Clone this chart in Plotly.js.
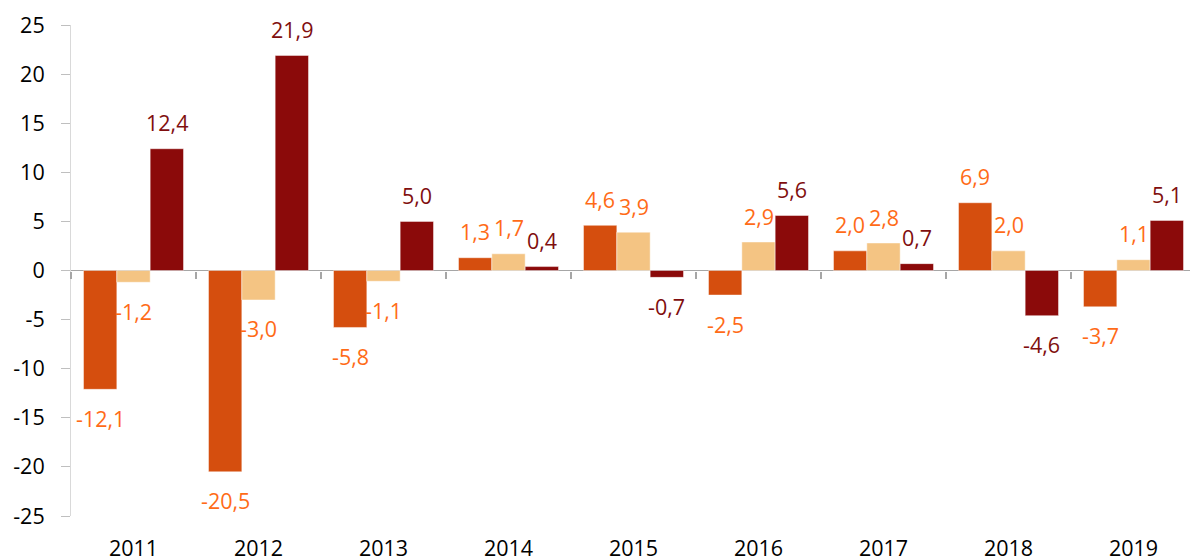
<!DOCTYPE html>
<html>
<head>
<meta charset="utf-8">
<script src="https://cdn.plot.ly/plotly-3.0.1.min.js"></script>
<style>html,body{margin:0;padding:0;background:#fff;}#chart{width:1190px;height:560px;}</style>
</head>
<body>
<div id="chart"></div>
<script>
const years = ['2011','2012','2013','2014','2015','2016','2017','2018','2019'];
const seriesA = [-12.1, -20.5, -5.8, 1.3, 4.6, -2.5, 2.0, 6.9, -3.7];
const seriesB = [-1.2, -3.0, -1.1, 1.7, 3.9, 2.9, 2.8, 2.0, 1.1];
const seriesC = [12.4, 21.9, 5.0, 0.4, -0.7, 5.6, 0.7, -4.6, 5.1];
const yTickVals = [-25, -20, -15, -10, -5, 0, 5, 10, 15, 20, 25];
const yTickText = ['-25', '-20', '-15', '-10', '-5', '0', '5', '10', '15', '20', '25'];

const barColors = ['#D54E0E', '#F4C483', '#8B0A0A'];
const labelColors = ['#FF6B17', '#FF6B17', '#800E0E'];
const allSeries = [seriesA, seriesB, seriesC];
const FONT = '"Open Sans", Lato, sans-serif';

const traces = allSeries.map((vals, i) => ({
  type: 'bar', x: years, y: vals,
  marker: {color: barColors[i], line: {color: 'rgba(255,255,255,0.45)', width: 1}},
  hoverinfo: 'x+y', showlegend: false
}));
// helper trace for boundary ticks on the zero line
traces.push({type: 'scatter', mode: 'markers', x: years, y: years.map(() => null),
  xaxis: 'x2', yaxis: 'y', hoverinfo: 'skip', showlegend: false});

const fmt = v => v.toFixed(1).replace('.', ',');
const annotations = [];
allSeries.forEach((vals, i) => {
  vals.forEach((v, j) => {
    annotations.push({
      x: j, y: v, xref: 'x', yref: 'y',
      text: fmt(v), showarrow: false,
      xshift: (i - 1) * 33.3,
      yshift: v >= 0 ? 26 : -29,
      yanchor: 'middle', xanchor: 'center',
      font: {family: FONT, size: 21.5, color: labelColors[i]}
    });
  });
});

const layout = {
  width: 1190, height: 560,
  margin: {l: 71, r: 0, t: 25, b: 44, pad: 0},
  paper_bgcolor: '#fff', plot_bgcolor: '#fff',
  barmode: 'group', bargap: 0.2, bargroupgap: 0,
  xaxis: {
    type: 'category', categoryarray: years, range: [-0.5, 8.452],
    showline: false, showgrid: false, zeroline: false, ticks: '',
    ticklabelstandoff: 17,
    tickfont: {family: FONT, size: 21.5, color: '#000'}
  },
  xaxis2: {
    type: 'category', categoryarray: years, matches: 'x', overlaying: 'x',
    anchor: 'free', position: 0.5, side: 'bottom',
    showline: false, showgrid: false, zeroline: false,
    ticks: 'outside', tickson: 'boundaries', ticklen: 7, tickwidth: 1.3, tickcolor: '#a6a6a6',
    showticklabels: false
  },
  yaxis: {
    range: [-25, 25], tickvals: yTickVals, ticktext: yTickText,
    showgrid: false, zeroline: true, zerolinecolor: '#a6a6a6', zerolinewidth: 1.5,
    showline: true, linecolor: '#d9d9d9', linewidth: 1,
    ticks: 'outside', ticklen: 9, tickcolor: '#bfbfbf', tickwidth: 1,
    ticklabelstandoff: 12,
    tickfont: {family: FONT, size: 21.5, color: '#000'}
  },
  annotations: annotations,
  showlegend: false
};

Plotly.newPlot('chart', traces, layout, {displayModeBar: false, staticPlot: true});
</script>
</body>
</html>
